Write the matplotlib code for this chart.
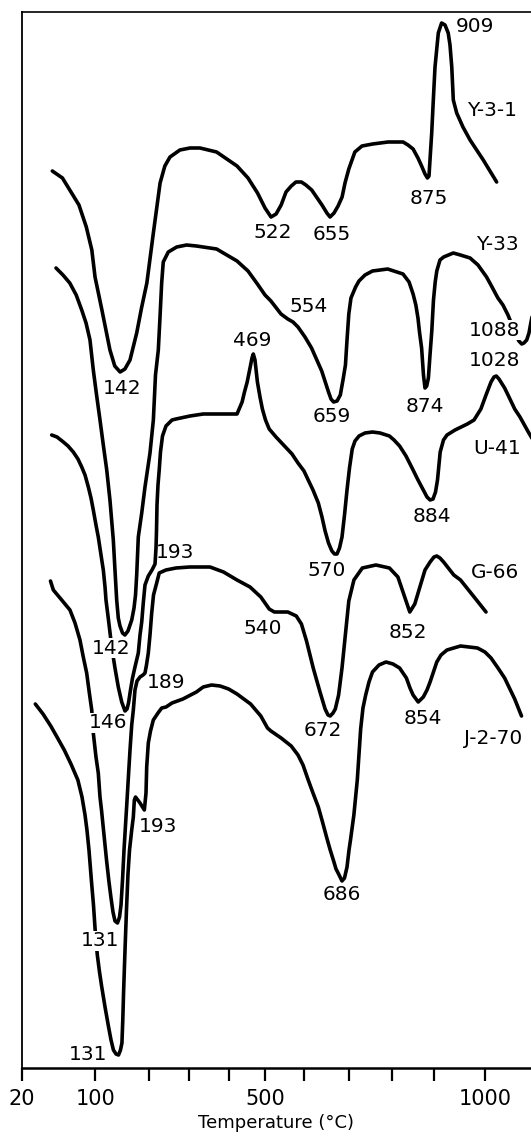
import matplotlib
matplotlib.use("Agg")
import matplotlib.pyplot as plt
import numpy as np

# The temperature axis of the original is hand drawn and uneven.
# Tick positions measured along it (pixels from the left edge of the figure).
axis_T = [0, 20, 100, 200, 300, 400, 500, 600, 700, 800, 900, 1000, 1200]
axis_px = [3.6, 22, 95.5, 149, 188.6, 228.6, 265.2, 304.1, 348.8, 392.1, 434.5, 485.3, 569.3]

tick_T = [20, 100, 200, 300, 400, 500, 600, 700, 800, 900, 1000]
tick_labels = ["20", "100", "", "", "", "500", "", "", "", "", "1000"]

# DTA traces, temperature (deg C) and vertical position (arbitrary, offset per sample)
y31_T = [53, 64, 72, 82, 90, 96, 99.5, 112, 127, 136, 146, 155, 164.5, 177, 186, 196, 211, 228, 240, 253,
         278, 303.5, 328.5, 370, 423, 453, 479, 499.5, 515, 528, 541, 553.5, 567, 579, 593, 604, 617, 640,
         651, 658, 667, 676, 685, 691.5, 700, 714, 730.5, 755, 790.5, 826, 837.5, 849.5, 861, 869.6, 877.6,
         883.3, 887, 893.4, 897.2, 901, 907.5, 914, 920.7, 927, 930.5, 934, 937, 943.7, 956, 970, 996, 1027]
y31_S = [897, 890, 878, 863, 841, 818, 791, 758, 718, 702, 696, 699, 708, 735, 760, 785, 835, 885, 902, 911,
         918, 920, 920, 916, 902, 890, 875, 860, 851, 854, 863, 876, 882, 886, 886, 883, 878, 863,
         855, 851, 855, 862, 871, 885, 899, 916, 922, 924, 926, 926, 923, 919, 910, 902, 894,
         890, 892, 935, 968, 1001, 1035, 1045, 1043, 1035, 1023, 1001, 968, 955, 941, 928, 908, 886]

y33_T = [57, 64.6, 72, 79, 85, 89.7, 94, 97.6, 102, 108.4, 114.6, 121, 127, 133.3, 136.4, 139.6, 142.6, 145.8,
         150.5, 155, 160.7, 167.7, 172, 174.8, 177, 180, 186.4, 192.5, 202.5, 211, 216.4, 223.5, 227.8, 232,
         236, 248.7, 270, 295, 319.5, 370, 423, 453, 478.7, 499.5, 514.7, 540.6, 558, 571.5, 584.3, 602,
         616.6, 639.4, 654.6, 660.2, 666, 673.7, 681, 687, 692.5, 696, 700, 705, 715.7, 723.5, 737.4, 754.7,
         789.8, 825.7, 840, 849.5, 856, 861, 864.6, 869.6, 874, 877.6, 881.6, 885.6, 889.4, 893.6, 897.6,
         901.4, 904.5, 910.8, 918, 937, 951, 970, 985.6, 1003, 1016, 1030, 1042, 1054, 1063.6, 1073, 1080,
         1086.7, 1092, 1098.6, 1104, 1108.8, 1113.6]
y33_S = [800, 793, 785, 773, 758, 745, 728, 698, 673, 648, 623, 598, 568, 528, 498, 468, 450, 442,
         435, 433, 437, 448, 460, 473, 493, 531, 555, 581, 615, 648, 693, 718, 751, 785,
         806, 816, 821, 823, 822, 819, 807, 797, 784, 773, 767, 754, 749, 746, 741, 731,
         720, 697, 676, 669, 666, 667, 673, 688, 703, 728, 754, 770, 781, 787, 793, 797,
         799, 794, 786, 774, 763, 750, 736, 720, 693, 680, 682, 690, 713, 737, 768,
         786, 797, 808, 811, 815, 813, 810, 803, 791, 781, 770, 763, 753, 743, 733, 727,
         724, 725, 728, 735, 746, 756]

u41_T = [52.3, 58.1, 65, 70.1, 75.8, 80.9, 85, 88.6, 92.2, 95.1, 97.6, 100.9, 105.2, 110.3, 114.6, 117.8,
         119.6, 124.3, 130.3, 136.4, 142.6, 149, 155.1, 158.9, 161.7, 165.4, 169.2, 173.8, 180, 183.2, 186.4,
         189.3, 192.5, 198.7, 207.6, 215.2, 217.7, 219, 220.2, 222.7, 225.8, 229, 234.1, 242.9, 258.1, 268.2,
         303.5, 336.5, 378.5, 423, 436.9, 443.4, 450.8, 458.5, 463.9, 467.5, 472.1, 478.7, 485.8, 492.3,
         500.8, 510.3, 527.8, 549.6, 568.9, 584.3, 599.7, 609.2, 619.9, 631.8, 640, 647, 654.6, 662.2, 668,
         673.6, 679.2, 684.8, 690.4, 696, 701.6, 707.9, 714.3, 723.6, 737.4, 754.7, 772.1, 793.8, 804.5,
         817.7, 832.8, 849.5, 861.1, 873.6, 882.3, 889.6, 896.5, 902, 905.9, 911.2, 917.7, 924.6, 940.4,
         964.6, 977.8, 991.3, 1001.7, 1013.6, 1020.7, 1026.2, 1032.6, 1046, 1056.4, 1070, 1082.6, 1102.4, 1113.6]
u41_S = [633, 631, 626, 622, 616, 609, 601, 593, 581, 570, 558, 543, 531, 513, 498, 481,
         468, 448, 421, 400, 381, 366, 357, 359, 365, 378, 390, 401, 415, 433, 446,
         465, 483, 492, 498, 504, 520, 538, 563, 583, 598, 616, 632, 642, 648, 649,
         652, 654, 654, 654, 666, 676, 686, 700, 710, 714, 708, 686, 671, 659,
         648, 639, 631, 622, 614, 605, 597, 588, 578, 565, 551, 537, 525, 517, 514,
         514, 520, 531, 553, 578, 600, 619, 627, 632, 635, 636, 635, 632, 628,
         622, 612, 598, 588, 578, 571, 568, 569, 576, 588, 616, 628, 633, 638,
         644, 648, 659, 673, 686, 691, 692, 689, 680, 671, 659, 651, 636, 628]

g66_T = [51, 54.1, 63.2, 72.2, 77.7, 83.1, 86.7, 90.4, 93.3, 95.9, 97.6, 100.9, 105.2, 108.4, 111.2, 115.9,
         120.6, 125.2, 129, 132.7, 136.4, 141.1, 144.9, 147.7, 150.5, 153.3, 156.1, 158.4, 161.7, 164.5,
         167.7, 170.7, 173.8, 177.6, 183.2, 188.8, 192.5, 195.3, 198.7, 202.5, 206.8, 211.4, 219.4, 225.8,
         242.7, 268.2, 302.5, 353.5, 387.3, 423, 458.5, 488, 510.3, 523.4, 540.6, 558.1, 579.9, 593.1, 605.4,
         620.4, 635.6, 647, 653.5, 658.4, 664.7, 669.8, 677.2, 684.8, 692.5, 700, 711.8, 731.2, 762.6, 793.8,
         813.7, 829.7, 841.7, 853.5, 865.5, 877.6, 889.6, 898.8, 904.5, 910.8, 917.9, 938, 951.2, 978, 1001.7]
g66_S = [487, 478, 468, 458, 445, 428, 411, 395, 375, 358, 335, 311, 295, 271, 258, 233,
         208, 186, 170, 156, 147, 145, 151, 163, 188, 218, 243, 263, 293, 318,
         343, 358, 378, 387, 391, 393, 395, 403, 415, 433, 455, 473, 485, 495,
         498, 500, 501, 501, 496, 488, 481, 471, 459, 456, 456, 456, 452, 444, 427,
         400, 376, 359, 353, 352, 355, 359, 373, 400, 434, 467, 488, 500, 503, 500,
         491, 471, 456, 464, 481, 498, 506, 511, 512, 510, 506, 493, 488, 471, 456]

j270_T = [34.5, 42.9, 51.3, 58.1, 66, 73.3, 80.8, 85.3, 88.6, 90.7, 92.9, 95.5, 97.8, 100, 103.4, 107.5,
          111.4, 117.8, 124.1, 129, 133.5, 138.3, 143, 146.7, 149.4, 151, 152.5, 154.2, 155.7, 157.9, 160.7,
          163.6, 167.7, 170.7, 172.6, 174.8, 183.2, 191.3, 194.4, 195.7, 198.7, 203.8, 210.9, 222.7, 232.1,
          243, 258.1, 285.6, 319.5, 336.5, 357.5, 378.8, 400, 423, 460.1, 488, 505.9, 514.7, 540.9, 566.8,
          584.3, 597.2, 609.2, 619.9, 631.8, 641.2, 650.8, 658.4, 666.1, 671.4, 677.2, 684.8, 690.4, 696,
          700.5, 703.9, 711.7, 719.6, 727.4, 732.7, 739, 746.6, 754.7, 769.7, 785.9, 802.1, 817.7, 833.7,
          842.2, 849.5, 861.6, 873.6, 882.3, 889.6, 904.5, 912.8, 924.6, 951.2, 984.6, 999.3, 1013.6, 1030.2,
          1046, 1070, 1086.2]
j270_S = [364, 354, 342, 331, 318, 304, 288, 271, 253, 238, 218, 188, 163, 133, 113, 96,
          82, 61, 42, 28, 18, 14, 13, 18, 25, 48, 76, 103, 126, 158, 194,
          218, 238, 251, 268, 271, 265, 258, 275, 301, 325, 337, 348, 355, 360,
          361, 365, 369, 376, 381, 383, 382, 379, 374, 364, 352, 340, 337, 330, 322,
          313, 303, 288, 275, 261, 246, 230, 218, 207, 199, 194, 187, 190, 201,
          218, 228, 253, 288, 339, 360, 373, 386, 396, 403, 406, 404, 400, 390,
          380, 373, 366, 371, 378, 386, 406, 413, 418, 422, 420, 416, 410, 400,
          390, 369, 352]

# peak temperatures and sample names written on the chart
label_text = ["909", "Y-3-1", "875", "522", "655", "142",
              "Y-33", "554", "1088", "659", "874", "142",
              "469", "1028", "U-41", "884", "570", "193", "146",
              "G-66", "540", "852", "672", "189", "131",
              "854", "J-2-70", "193", "686", "131"]
label_T = [980, 1015, 886, 519, 662, 149,
           1029, 611, 1023, 661, 878, 129,
           465, 1023, 1027, 894, 651, 266, 124,
           1022, 492, 838, 641, 242, 109,
           872, 1018, 223, 685, 92]
label_S = [1041, 958, 870, 835, 834, 680,
           823, 761, 738, 651, 662, 420,
           727, 708, 620, 552, 497, 515, 345,
           495, 439, 436, 337, 386, 127,
           350, 329, 241, 173, 14]
# labels that sit on top of a trace and blank it out, as in the original
masked_idx = {8, 11, 18, 24}


def fwd(t):
    return np.interp(t, axis_T, axis_px)


def inv(p):
    return np.interp(p, axis_px, axis_T)


fig = plt.figure(figsize=(5.31, 11.38), dpi=100)
ax = fig.add_axes([22 / 531, 1 - 1068 / 1138, 1 - 22 / 531, 1056 / 1138])
ax.set_xscale("function", functions=(fwd, inv))

for T, S in [(y31_T, y31_S), (y33_T, y33_S), (u41_T, u41_S), (g66_T, g66_S), (j270_T, j270_S)]:
    ax.plot(T, S, color="black", lw=2.6, solid_joinstyle="round", solid_capstyle="round", zorder=2)

for i, (txt, t, s) in enumerate(zip(label_text, label_T, label_S)):
    kw = {}
    if i in masked_idx:
        kw["bbox"] = dict(facecolor="white", edgecolor="none", pad=0.5)
    ax.text(t, s, txt, ha="center", va="center", fontsize=14.5, zorder=3, **kw)

ax.set_xlim(20, float(inv(531)))
ax.set_ylim(0, 1056)

ax.set_xticks(tick_T)
ax.set_xticklabels(tick_labels)
ax.xaxis.set_minor_locator(matplotlib.ticker.NullLocator())
ax.tick_params(axis="x", direction="out", length=9, width=1.6, pad=6, labelsize=15)
ax.set_yticks([])
ax.set_xlabel("Temperature (°C)", fontsize=13, labelpad=4)

ax.spines["right"].set_visible(False)
ax.spines["top"].set_linewidth(1.2)
ax.spines["left"].set_linewidth(1.3)
ax.spines["bottom"].set_linewidth(1.8)

fig.savefig("out.png", dpi=100)
